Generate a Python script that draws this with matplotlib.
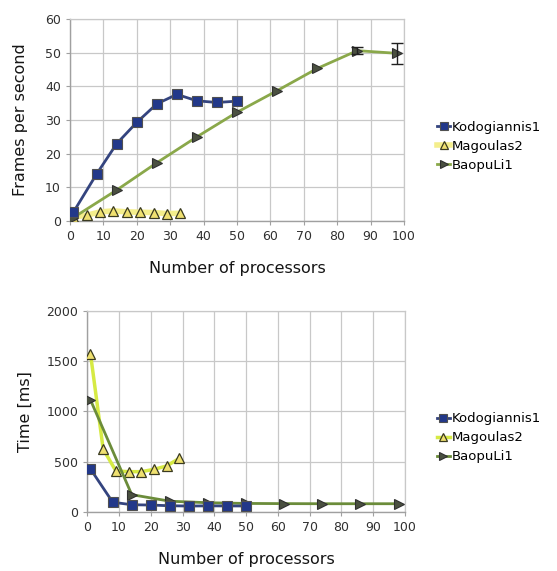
import matplotlib
matplotlib.use("Agg")
import matplotlib.pyplot as plt

# ---- data ----
series_names = ["Kodogiannis1", "Magoulas2", "BaopuLi1"]

kod_x = [1, 8, 14, 20, 26, 32, 38, 44, 50]
kod_fps = [2.6, 14.0, 23.0, 29.3, 34.8, 37.6, 35.7, 35.2, 35.6]
kod_time = [430, 100, 75, 72, 65, 62, 64, 63, 63]

mag_x_fps = [1, 5, 9, 13, 17, 21, 25, 29, 33]
mag_fps = [1.2, 1.7, 2.7, 3.0, 2.7, 2.6, 2.5, 2.2, 2.3]
mag_x_time = [1, 5, 9, 13, 17, 21, 25, 29]
mag_time = [1575, 628, 410, 403, 403, 426, 460, 536]

bao_x = [1, 14, 26, 38, 50, 62, 74, 86, 98]
bao_fps = [1.0, 9.2, 17.3, 25.0, 32.3, 38.7, 45.3, 50.6, 49.8]
bao_fps_err = [0, 0, 0, 0, 0, 0, 0, 1.0, 3.2]
bao_time = [1115, 175, 110, 95, 88, 86, 85, 85, 85]

x_ticks = [0, 10, 20, 30, 40, 50, 60, 70, 80, 90, 100]
fps_ticks = [0, 10, 20, 30, 40, 50, 60]
time_ticks = [0, 500, 1000, 1500, 2000]

plt.rcParams['font.family'] = ['DejaVu Sans']

fig = plt.figure(figsize=(5.57, 5.71), dpi=100)
ax1 = fig.add_axes([0.1257, 0.613, 0.5996, 0.3537])
ax2 = fig.add_axes([0.1567, 0.1028, 0.5703, 0.3531])

KOD_LINE = "#34447f"
KOD_FILL = "#22388a"
MAG_FILL = "#efe070"
BAO_FILL = "#4a5040"


def style(ax, yticks, ylabel, ypad):
    ax.set_xlim(0, 100)
    ax.set_xticks(x_ticks)
    ax.set_ylim(yticks[0], yticks[-1])
    ax.set_yticks(yticks)
    ax.grid(True, color="#c8c8c8", linewidth=0.9)
    ax.set_axisbelow(True)
    for s in ["top", "right"]:
        ax.spines[s].set_color("#c8c8c8")
        ax.spines[s].set_linewidth(0.9)
    for s in ["left", "bottom"]:
        ax.spines[s].set_color("#a0a0a0")
        ax.spines[s].set_linewidth(1.0)
    ax.tick_params(axis="both", labelsize=9, colors="#a0a0a0",
                   labelcolor="#303030", length=3, width=0.8)
    ax.set_xlabel("Number of processors", fontsize=11.5, color="#151515",
                  labelpad=13)
    ax.set_ylabel(ylabel, fontsize=11.5, color="#151515", labelpad=ypad)


def legend(ax):
    h, l = ax.get_legend_handles_labels()
    order = [2, 0, 1]
    ax.legend([h[i] for i in order], [l[i] for i in order],
              loc="center left", bbox_to_anchor=(1.075, 0.37),
              frameon=False, fontsize=9.5, handlelength=1.0,
              handletextpad=0.15, labelspacing=0.45, borderaxespad=0.2,
              markerscale=0.8)


# ---- top chart ----
ax1.plot(mag_x_fps, mag_fps, color="#f4ee8c", linewidth=4, marker="^",
         markersize=6.5, markerfacecolor=MAG_FILL, markeredgecolor="#3a3a20",
         markeredgewidth=0.9, label=series_names[1], zorder=3)
ax1.plot(bao_x, bao_fps, color="#8aa84a", linewidth=2, marker=">",
         markersize=7, markerfacecolor=BAO_FILL, markeredgecolor="#303030",
         markeredgewidth=0.8, label=series_names[2], zorder=3)
ax1.errorbar(bao_x[7:], bao_fps[7:], yerr=bao_fps_err[7:], fmt="none",
             ecolor="#202020", elinewidth=1, capsize=4, capthick=1, zorder=4)
ax1.plot(kod_x, kod_fps, color=KOD_LINE, linewidth=2, marker="s",
         markersize=7, markerfacecolor=KOD_FILL, markeredgecolor="#505050",
         markeredgewidth=0.8, label=series_names[0], zorder=5)
style(ax1, fps_ticks, "Frames per second", 12)
legend(ax1)

# ---- bottom chart ----
ax2.plot(mag_x_time, mag_time, color="#d6ea44", linewidth=2.5, marker="^",
         markersize=6.5, markerfacecolor=MAG_FILL, markeredgecolor="#3a3a20",
         markeredgewidth=0.9, label=series_names[1], zorder=3)
ax2.plot(bao_x, bao_time, color="#6b8c3a", linewidth=2, marker=">",
         markersize=7, markerfacecolor=BAO_FILL, markeredgecolor="#303030",
         markeredgewidth=0.8, label=series_names[2], zorder=3)
ax2.plot(kod_x, kod_time, color=KOD_LINE, linewidth=2, marker="s",
         markersize=7, markerfacecolor=KOD_FILL, markeredgecolor="#505050",
         markeredgewidth=0.8, label=series_names[0], zorder=5)
style(ax2, time_ticks, "Time [ms]", 10)
legend(ax2)

fig.savefig("out.png", dpi=100)
